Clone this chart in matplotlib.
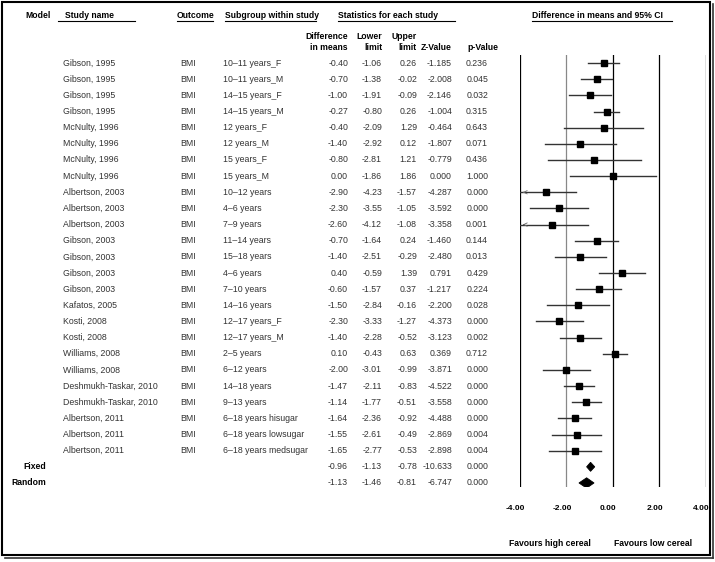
import matplotlib
matplotlib.use("Agg")
import matplotlib.pyplot as plt
import matplotlib.transforms as mtransforms
from matplotlib.lines import Line2D
from matplotlib.patches import Polygon, Rectangle

studies = [
    "Gibson, 1995", "Gibson, 1995", "Gibson, 1995", "Gibson, 1995",
    "McNulty, 1996", "McNulty, 1996", "McNulty, 1996", "McNulty, 1996",
    "Albertson, 2003", "Albertson, 2003", "Albertson, 2003",
    "Gibson, 2003", "Gibson, 2003", "Gibson, 2003", "Gibson, 2003",
    "Kafatos, 2005", "Kosti, 2008", "Kosti, 2008",
    "Williams, 2008", "Williams, 2008",
    "Deshmukh-Taskar, 2010", "Deshmukh-Taskar, 2010",
    "Albertson, 2011", "Albertson, 2011", "Albertson, 2011",
]
subgroups = [
    "10\u201311 years_F", "10\u201311 years_M", "14\u201315 years_F", "14\u201315 years_M",
    "12 years_F", "12 years_M", "15 years_F", "15 years_M",
    "10\u201312 years", "4\u20136 years", "7\u20139 years",
    "11\u201314 years", "15\u201318 years", "4\u20136 years", "7\u201310 years",
    "14\u201316 years", "12\u201317 years_F", "12\u201317 years_M",
    "2\u20135 years", "6\u201312 years",
    "14\u201318 years", "9\u201313 years",
    "6\u201318 years hisugar", "6\u201318 years lowsugar", "6\u201318 years medsugar",
]
diff = [-0.40, -0.70, -1.00, -0.27, -0.40, -1.40, -0.80, 0.00, -2.90, -2.30, -2.60,
        -0.70, -1.40, 0.40, -0.60, -1.50, -2.30, -1.40, 0.10, -2.00, -1.47, -1.14,
        -1.64, -1.55, -1.65]
lower = [-1.06, -1.38, -1.91, -0.80, -2.09, -2.92, -2.81, -1.86, -4.23, -3.55, -4.12,
         -1.64, -2.51, -0.59, -1.57, -2.84, -3.33, -2.28, -0.43, -3.01, -2.11, -1.77,
         -2.36, -2.61, -2.77]
upper = [0.26, -0.02, -0.09, 0.26, 1.29, 0.12, 1.21, 1.86, -1.57, -1.05, -1.08,
         0.24, -0.29, 1.39, 0.37, -0.16, -1.27, -0.52, 0.63, -0.99, -0.83, -0.51,
         -0.92, -0.49, -0.53]
zval = ["-1.185", "-2.008", "-2.146", "-1.004", "-0.464", "-1.807", "-0.779", "0.000",
        "-4.287", "-3.592", "-3.358", "-1.460", "-2.480", "0.791", "-1.217", "-2.200",
        "-4.373", "-3.123", "0.369", "-3.871", "-4.522", "-3.558", "-4.488", "-2.869",
        "-2.898"]
pval = ["0.236", "0.045", "0.032", "0.315", "0.643", "0.071", "0.436", "1.000",
        "0.000", "0.000", "0.001", "0.144", "0.013", "0.429", "0.224", "0.028",
        "0.000", "0.002", "0.712", "0.000", "0.000", "0.000", "0.000", "0.004",
        "0.004"]

models = ["Fixed", "Random"]
pooled_diff = [-0.96, -1.13]
pooled_lower = [-1.13, -1.46]
pooled_upper = [-0.78, -0.81]
pooled_z = ["-10.633", "-6.747"]
pooled_p = ["0.000", "0.000"]

xticks = [-4, -2, 0, 2, 4]

W, H = 715, 562
plt.rcParams["font.family"] = ["Liberation Sans", "DejaVu Sans"]
fig = plt.figure(figsize=(W / 100, H / 100), dpi=100)


def fx(px):
    return px / W


def fy(py):
    return 1 - py / H


# forest panel
ax = fig.add_axes([fx(520), fy(487), fx(705.7) - fx(520), fy(55) - fy(487)])
ax.set_xlim(-4, 4)
n = len(studies)
ax.set_ylim(n + 1.25, -0.5)
for s in ax.spines.values():
    s.set_visible(False)
ax.set_yticks([])
ax.set_xticks(xticks)
ax.set_xticklabels([f"{t:.2f}" for t in xticks], fontsize=6, fontweight="bold")
ax.tick_params(axis="x", length=0, pad=13)
ax.patch.set_alpha(0)
shift = mtransforms.ScaledTranslation(-4.5 / 100, 0, fig.dpi_scale_trans)
for lab in ax.get_xticklabels():
    lab.set_transform(lab.get_transform() + shift)

for t in xticks:
    ax.axvline(t, color="#888888" if t == -2 else "black", lw=0.9, zorder=1)

line_col = "#333333"
for i in range(n):
    lo = max(lower[i], -4)
    ax.plot([lo, upper[i]], [i, i], color=line_col, lw=1.0, zorder=2)
    if lower[i] < -4:
        ax.annotate("", xy=(-4, i), xytext=(-3.7, i),
                    arrowprops=dict(arrowstyle="->,head_length=0.25,head_width=0.12",
                                    lw=0.6, color="#666666"))
    ax.plot(diff[i], i, marker="s", ms=4.8, color="black", zorder=3)

for j in range(len(models)):
    y = n + j
    h = 0.28 if j == 0 else 0.32
    poly = Polygon([(pooled_lower[j], y), (pooled_diff[j], y - h),
                    (pooled_upper[j], y), (pooled_diff[j], y + h)],
                   closed=True, facecolor="black", edgecolor="black", lw=0.6, zorder=3)
    ax.add_patch(poly)

# table text, x in figure pixels, y in row units
tr = mtransforms.blended_transform_factory(fig.transFigure, ax.transData)
body = dict(fontsize=6.3, color="#333333", va="center", transform=tr)
for i in range(n):
    fig.text(fx(63), i, studies[i], ha="left", **body)
    fig.text(fx(180), i, "BMI", ha="left", **body)
    fig.text(fx(223), i, subgroups[i], ha="left", **body)
    fig.text(fx(348), i, f"{diff[i]:.2f}", ha="right", **body)
    fig.text(fx(382), i, f"{lower[i]:.2f}", ha="right", **body)
    fig.text(fx(417), i, f"{upper[i]:.2f}", ha="right", **body)
    fig.text(fx(452), i, zval[i], ha="right", **body)
    fig.text(fx(488), i, pval[i], ha="right", **body)

for j in range(len(models)):
    y = n + j
    fig.text(fx(46), y, models[j], ha="right", va="center", fontsize=6.2,
             fontweight="bold", transform=tr)
    fig.text(fx(348), y, f"{pooled_diff[j]:.2f}", ha="right", **body)
    fig.text(fx(382), y, f"{pooled_lower[j]:.2f}", ha="right", **body)
    fig.text(fx(417), y, f"{pooled_upper[j]:.2f}", ha="right", **body)
    fig.text(fx(452), y, pooled_z[j], ha="right", **body)
    fig.text(fx(488), y, pooled_p[j], ha="right", **body)

# headers
hdr = dict(fontsize=6.2, fontweight="bold", va="center", color="black")
fig.text(fx(25), fy(15), "Model", ha="left", **hdr)
fig.text(fx(65), fy(15), "Study name", ha="left", **hdr)
fig.text(fx(177), fy(15), "Outcome", ha="left", **hdr)
fig.text(fx(225), fy(15), "Subgroup within study", ha="left", **hdr)
fig.text(fx(338), fy(15), "Statistics for each study", ha="left", **hdr)
fig.text(fx(532), fy(15), "Difference in means and 95% CI", ha="left", **hdr)
for x0, x1 in [(58, 135), (177, 213), (225, 316), (338, 455), (532, 672)]:
    fig.add_artist(Line2D([fx(x0), fx(x1)], [fy(20.5), fy(20.5)], color="black", lw=0.8))

fig.text(fx(348), fy(42), "Difference\nin means", ha="right", ma="right",
         linespacing=1.15, **hdr)
fig.text(fx(382), fy(42), "Lower\nlimit", ha="right", ma="right", linespacing=1.15, **hdr)
fig.text(fx(417), fy(42), "Upper\nlimit", ha="right", ma="right", linespacing=1.15, **hdr)
fig.text(fx(452), fy(47.5), "Z-Value", ha="right", **hdr)
fig.text(fx(498), fy(47.5), "p-Value", ha="right", **hdr)

fig.text(fx(550), fy(543), "Favours high cereal", ha="center", **hdr)
fig.text(fx(653), fy(543), "Favours low cereal", ha="center", **hdr)

# frame with shadow
fig.add_artist(Rectangle((fx(2), fy(555)), fx(710) - fx(2), fy(1.5) - fy(555),
                         fill=False, edgecolor="black", lw=1.5, transform=fig.transFigure))
fig.add_artist(Line2D([fx(713), fx(713)], [fy(4), fy(558)], color="#333333", lw=1.2))
fig.add_artist(Line2D([fx(5), fx(713)], [fy(558), fy(558)], color="#333333", lw=1.2))

fig.savefig("out.png", dpi=100)
